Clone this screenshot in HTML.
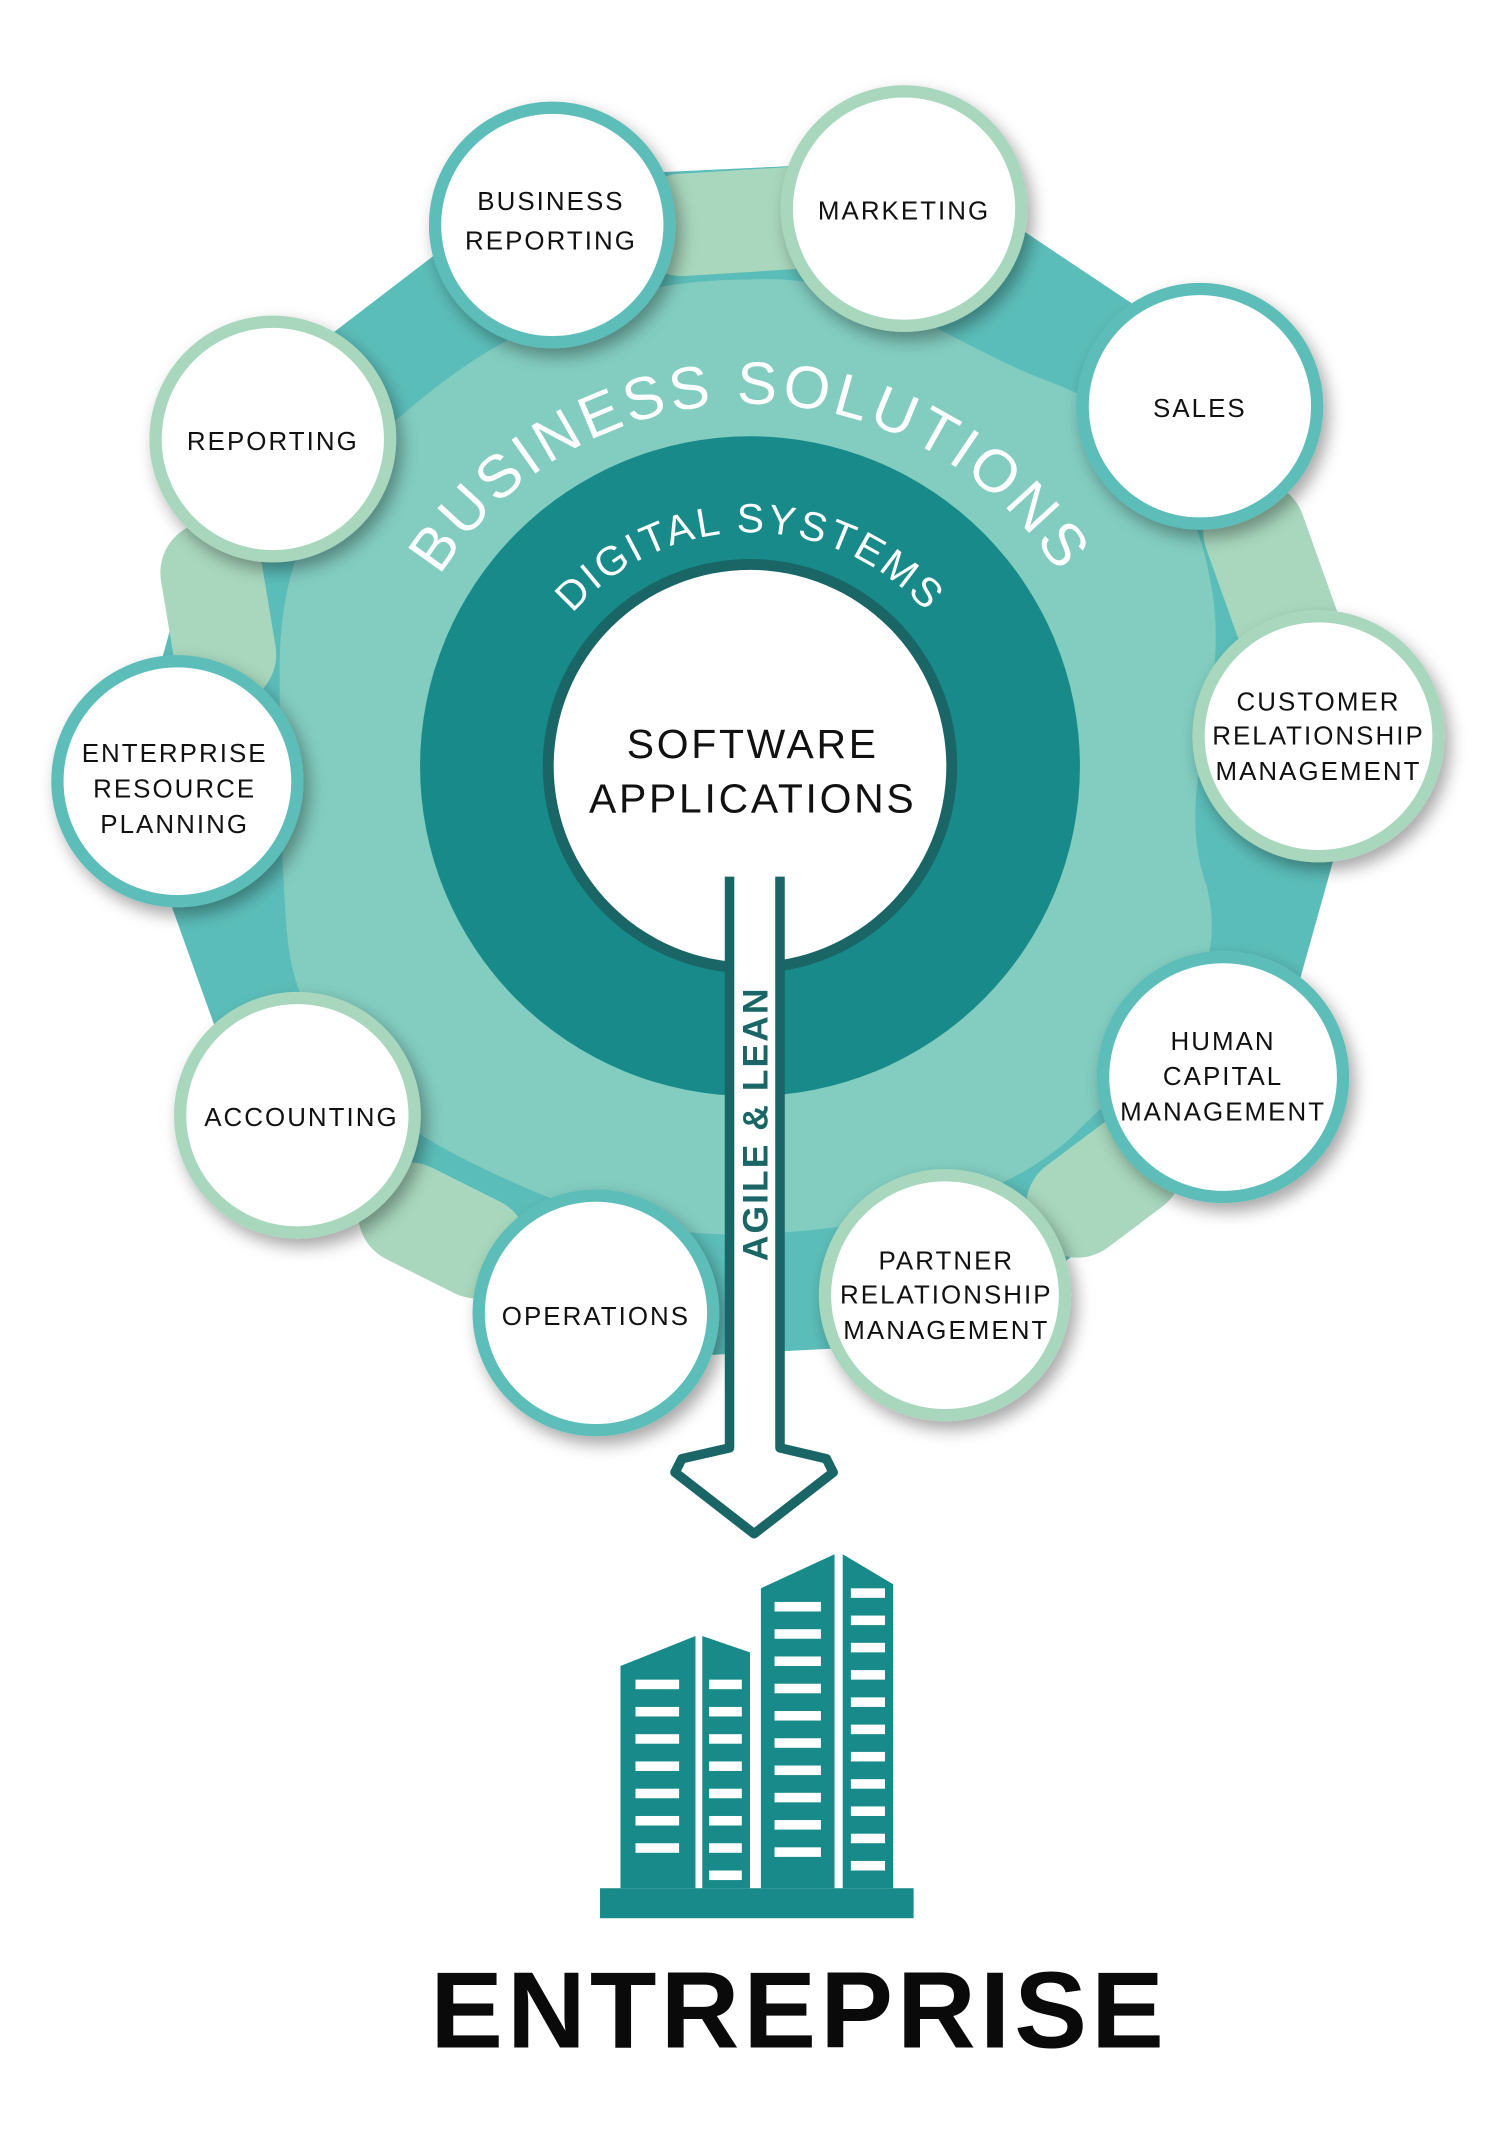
<!DOCTYPE html>
<html><head><meta charset="utf-8"><style>
html,body{margin:0;padding:0;background:#fff}
svg{display:block}
text{font-family:"Liberation Sans",sans-serif}
</style></head><body>
<svg width="1500" height="2135" viewBox="0 0 1100 1566" xmlns="http://www.w3.org/2000/svg">
<defs>
<filter id="sh" x="-20%" y="-20%" width="140%" height="140%"><feDropShadow dx="4" dy="6" stdDeviation="6" flood-color="#000" flood-opacity="0.35"/></filter>
</defs>
<!-- outer band -->
<polygon points="405,165 663,153 880,298 967,540 897,790 693,950 437,963 218,818 130,573 200,322" fill="#5bbdb9" stroke="#5bbdb9" stroke-width="70" stroke-linejoin="round"/>
<g stroke="#a8d7bd" stroke-width="75" stroke-linecap="round" fill="none">
<line x1="500" y1="165" x2="580" y2="160"/>
<line x1="920" y1="390" x2="945" y2="460"/>
<line x1="790" y1="885" x2="830" y2="855"/>
<line x1="300" y1="890" x2="350" y2="915"/>
<line x1="155" y1="420" x2="165" y2="480"/>
</g>
<!-- mid blob -->
<path d="M550,205 C640,200 700,255 770,280 C850,310 880,370 890,440 C900,520 860,580 885,650 C905,730 840,780 790,830 C740,880 650,900 560,905 C470,910 400,880 340,850 C270,815 215,760 210,680 C205,610 205,550 205,490 C205,400 240,350 300,300 C370,240 450,205 550,205 Z" fill="#82ccc0"/>
<circle cx="550" cy="562" r="242" fill="#178a89"/>
<circle cx="550" cy="562" r="152" fill="#1a6565"/>
<circle cx="550" cy="562" r="144" fill="#fff"/>
<path id="a1" d="M318,430 A268,268 0 0 1 782,430" fill="none"/>
<path id="a2" d="M405,470 A172,172 0 0 1 695,470" fill="none"/>
<text font-size="44" fill="#fff" letter-spacing="3" text-anchor="middle"><textPath href="#a1" startOffset="50%">BUSINESS SOLUTIONS</textPath></text>
<text font-size="30" fill="#fff" letter-spacing="2" text-anchor="middle"><textPath href="#a2" startOffset="50%">DIGITAL SYSTEMS</textPath></text>
<text x="552" y="556" font-size="30" text-anchor="middle" letter-spacing="2" fill="#111">SOFTWARE</text>
<text x="552" y="596" font-size="30" text-anchor="middle" letter-spacing="2" fill="#111">APPLICATIONS</text>
<!-- circles -->
<g filter="url(#sh)">
<circle cx="405" cy="165" r="86" fill="#fff" stroke="#5bbdb9" stroke-width="9"/>
<circle cx="663" cy="153" r="86" fill="#fff" stroke="#a8d7bd" stroke-width="9"/>
<circle cx="880" cy="298" r="86" fill="#fff" stroke="#5bbdb9" stroke-width="9"/>
<circle cx="967" cy="540" r="88" fill="#fff" stroke="#a8d7bd" stroke-width="9"/>
<circle cx="897" cy="790" r="88" fill="#fff" stroke="#5bbdb9" stroke-width="9"/>
<circle cx="693" cy="950" r="88" fill="#fff" stroke="#a8d7bd" stroke-width="9"/>
<circle cx="437" cy="963" r="86" fill="#fff" stroke="#5bbdb9" stroke-width="9"/>
<circle cx="218" cy="818" r="86" fill="#fff" stroke="#a8d7bd" stroke-width="9"/>
<circle cx="130" cy="573" r="88" fill="#fff" stroke="#5bbdb9" stroke-width="9"/>
<circle cx="200" cy="322" r="86" fill="#fff" stroke="#a8d7bd" stroke-width="9"/>
</g>
<g font-size="19" fill="#111" text-anchor="middle" letter-spacing="1.5">
<text x="404" y="154">BUSINESS</text><text x="404" y="183">REPORTING</text>
<text x="663" y="161">MARKETING</text>
<text x="880" y="306">SALES</text>
<text x="967" y="521">CUSTOMER</text><text x="967" y="546">RELATIONSHIP</text><text x="967" y="572">MANAGEMENT</text>
<text x="897" y="770">HUMAN</text><text x="897" y="796">CAPITAL</text><text x="897" y="822">MANAGEMENT</text>
<text x="694" y="931">PARTNER</text><text x="694" y="956">RELATIONSHIP</text><text x="694" y="982">MANAGEMENT</text>
<text x="437" y="972">OPERATIONS</text>
<text x="221" y="826">ACCOUNTING</text>
<text x="128" y="559">ENTERPRISE</text><text x="128" y="585">RESOURCE</text><text x="128" y="611">PLANNING</text>
<text x="200" y="330">REPORTING</text>
</g>
<!-- arrow -->
<path d="M535,643 L535,1062 L500,1070 L495,1080 L553,1125 L611,1080 L606,1070 L572,1062 L572,643" fill="#fff" stroke="#1a6565" stroke-width="7" stroke-linejoin="round"/>
<text transform="translate(563,925) rotate(-90)" font-size="26" fill="#1a6565" letter-spacing="1.5" font-weight="bold">AGILE &amp; LEAN</text>
<!-- building -->
<g fill="#178a89">
<rect x="440" y="1385" width="230" height="22"/>
<polygon points="455,1222 510,1200 510,1385 455,1385"/>
<polygon points="515,1200 550,1212 550,1385 515,1385"/>
<polygon points="558,1165 612,1140 612,1385 558,1385"/>
<polygon points="618,1140 655,1162 655,1385 618,1385"/>
</g>
<g fill="#fff">
<g><rect x="466" y="1232" width="32" height="7"/><rect x="466" y="1252" width="32" height="7"/><rect x="466" y="1272" width="32" height="7"/><rect x="466" y="1292" width="32" height="7"/><rect x="466" y="1312" width="32" height="7"/><rect x="466" y="1332" width="32" height="7"/><rect x="466" y="1352" width="32" height="7"/></g>
<g><rect x="520" y="1232" width="24" height="7"/><rect x="520" y="1252" width="24" height="7"/><rect x="520" y="1272" width="24" height="7"/><rect x="520" y="1292" width="24" height="7"/><rect x="520" y="1312" width="24" height="7"/><rect x="520" y="1332" width="24" height="7"/><rect x="520" y="1352" width="24" height="7"/><rect x="520" y="1372" width="24" height="7"/></g>
<g><rect x="568" y="1175" width="34" height="7"/><rect x="568" y="1195" width="34" height="7"/><rect x="568" y="1215" width="34" height="7"/><rect x="568" y="1235" width="34" height="7"/><rect x="568" y="1255" width="34" height="7"/><rect x="568" y="1275" width="34" height="7"/><rect x="568" y="1295" width="34" height="7"/><rect x="568" y="1315" width="34" height="7"/><rect x="568" y="1335" width="34" height="7"/><rect x="568" y="1355" width="34" height="7"/></g>
<g><rect x="624" y="1165" width="25" height="7"/><rect x="624" y="1185" width="25" height="7"/><rect x="624" y="1205" width="25" height="7"/><rect x="624" y="1225" width="25" height="7"/><rect x="624" y="1245" width="25" height="7"/><rect x="624" y="1265" width="25" height="7"/><rect x="624" y="1285" width="25" height="7"/><rect x="624" y="1305" width="25" height="7"/><rect x="624" y="1325" width="25" height="7"/><rect x="624" y="1345" width="25" height="7"/><rect x="624" y="1365" width="25" height="7"/></g>
</g>
<text x="586" y="1502" font-size="80" font-weight="bold" text-anchor="middle" letter-spacing="3" fill="#0a0a0a">ENTREPRISE</text>
</svg>
</body></html>
